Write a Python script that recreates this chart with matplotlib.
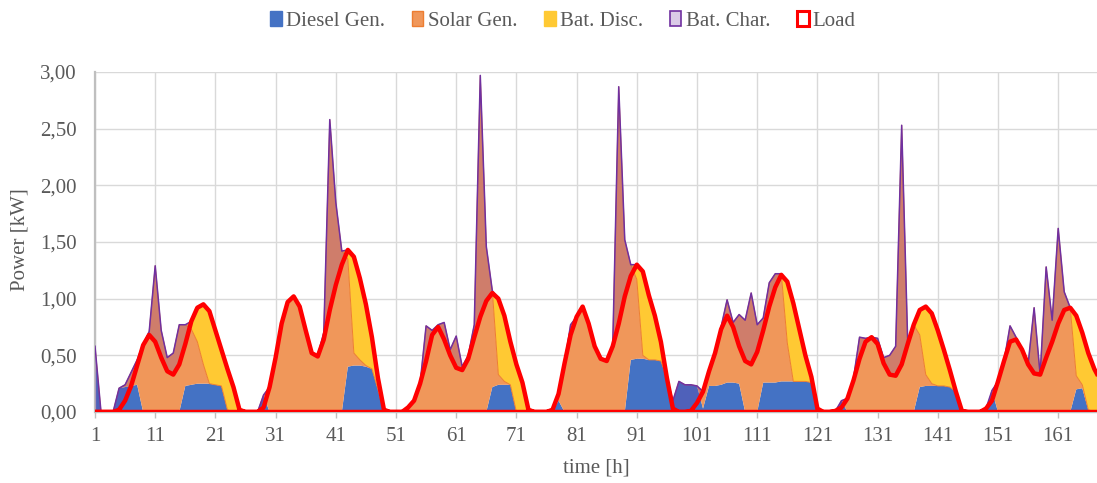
import numpy as np
import matplotlib
matplotlib.use("Agg")
import matplotlib.pyplot as plt
from matplotlib.patches import Patch

# Hourly power balance over one week [kW], hours 1..168
hours = list(range(1, 169))

load = [
    0, 0, 0, 0, 0.02, 0.10, 0.23, 0.41, 0.59, 0.68, 0.62, 0.48, 0.36, 0.33, 0.42, 0.60, 0.80, 0.92, 0.95, 0.89, 0.72, 0.55, 0.38, 0.22,
    0.02, 0, 0, 0, 0.04, 0.22, 0.48, 0.78, 0.97, 1.02, 0.93, 0.72, 0.52, 0.49, 0.64, 0.90, 1.12, 1.30, 1.43, 1.37, 1.18, 0.95, 0.66, 0.30,
    0.02, 0, 0, 0, 0.04, 0.10, 0.25, 0.45, 0.68, 0.75, 0.64, 0.50, 0.39, 0.37, 0.47, 0.66, 0.84, 0.98, 1.05, 1.00, 0.85, 0.62, 0.42, 0.26,
    0.02, 0, 0, 0, 0.02, 0.16, 0.43, 0.68, 0.84, 0.93, 0.78, 0.58, 0.47, 0.45, 0.58, 0.78, 1.02, 1.20, 1.30, 1.24, 1.03, 0.85, 0.62, 0.30,
    0.03, 0, 0, 0.01, 0.08, 0.18, 0.36, 0.52, 0.73, 0.85, 0.75, 0.58, 0.45, 0.42, 0.53, 0.72, 0.93, 1.10, 1.21, 1.15, 0.96, 0.73, 0.50, 0.31,
    0.03, 0, 0, 0.01, 0.04, 0.12, 0.28, 0.47, 0.62, 0.66, 0.60, 0.43, 0.33, 0.32, 0.42, 0.60, 0.77, 0.90, 0.93, 0.87, 0.72, 0.55, 0.37, 0.18,
    0.01, 0, 0, 0, 0.03, 0.10, 0.27, 0.45, 0.62, 0.64, 0.55, 0.42, 0.34, 0.33, 0.48, 0.62, 0.78, 0.90, 0.92, 0.85, 0.70, 0.52, 0.38, 0.28,
]

diesel_gen = [
    0.58, 0, 0, 0, 0.21, 0.22, 0.23, 0.24, 0, 0, 0, 0, 0, 0, 0, 0.23, 0.24, 0.25, 0.25, 0.25, 0.24, 0.23, 0.02, 0,
    0, 0, 0, 0, 0.15, 0, 0, 0, 0, 0, 0, 0, 0, 0, 0, 0, 0, 0, 0.40, 0.41, 0.41, 0.40, 0.38, 0.20,
    0, 0, 0, 0, 0, 0, 0, 0, 0, 0, 0, 0, 0, 0, 0, 0, 0, 0, 0.22, 0.24, 0.24, 0.24, 0, 0,
    0, 0, 0, 0, 0, 0.10, 0, 0, 0, 0, 0, 0, 0, 0, 0, 0, 0, 0.46, 0.47, 0.47, 0.46, 0.46, 0.45, 0.30,
    0.10, 0.27, 0.24, 0.24, 0.23, 0.03, 0.23, 0.23, 0.24, 0.26, 0.26, 0.25, 0, 0, 0, 0.26, 0.26, 0.26, 0.27, 0.27, 0.27, 0.27, 0.27, 0.26,
    0, 0, 0, 0, 0.10, 0, 0, 0, 0, 0, 0, 0, 0, 0, 0, 0, 0, 0.22, 0.23, 0.23, 0.23, 0.23, 0.22, 0.18,
    0, 0, 0, 0, 0, 0.19, 0, 0, 0, 0, 0, 0, 0, 0, 0, 0, 0, 0, 0, 0.20, 0.21, 0.02, 0, 0,
]

solar_gen = [
    0, 0, 0, 0, 0, 0.02, 0.12, 0.22, 0.60, 0.71, 1.29, 0.72, 0.48, 0.52, 0.77, 0.54, 0.49, 0.37, 0.17, 0, 0, 0, 0, 0,
    0, 0, 0, 0, 0, 0.22, 0.48, 0.78, 0.97, 1.02, 0.93, 0.72, 0.52, 0.50, 0.70, 2.58, 1.85, 1.42, 0.95, 0.11, 0.05, 0.01, 0, 0,
    0, 0, 0, 0, 0.04, 0.10, 0.25, 0.76, 0.72, 0.77, 0.79, 0.55, 0.67, 0.40, 0.50, 0.77, 2.97, 1.46, 0.85, 0.09, 0.03, 0, 0, 0,
    0, 0, 0, 0, 0.02, 0.06, 0.43, 0.77, 0.84, 0.93, 0.78, 0.58, 0.47, 0.45, 0.58, 2.87, 1.52, 0.84, 0.70, 0.03, 0, 0, 0, 0,
    0, 0, 0, 0, 0, 0.15, 0.13, 0.29, 0.51, 0.73, 0.53, 0.61, 0.81, 1.05, 0.77, 0.57, 0.88, 0.96, 0.95, 0.34, 0, 0, 0, 0,
    0, 0, 0, 0, 0, 0.12, 0.30, 0.66, 0.65, 0.66, 0.65, 0.48, 0.50, 0.58, 2.53, 0.62, 0.77, 0.46, 0.10, 0.02, 0, 0, 0, 0,
    0, 0, 0, 0, 0, 0, 0.27, 0.45, 0.76, 0.66, 0.55, 0.42, 0.92, 0.33, 1.28, 0.81, 1.62, 1.06, 0.92, 0.12, 0.03, 0, 0, 0,
]

bat_discharge = [
    0, 0, 0, 0, 0, 0, 0, 0, 0, 0, 0, 0, 0, 0, 0, 0, 0.07, 0.30, 0.53, 0.64, 0.48, 0.32, 0.36, 0.22,
    0.02, 0, 0, 0, 0, 0, 0, 0, 0, 0, 0, 0, 0, 0, 0, 0, 0, 0, 0.08, 0.85, 0.72, 0.54, 0.28, 0.10,
    0.02, 0, 0, 0, 0, 0, 0, 0, 0, 0, 0, 0, 0, 0, 0, 0, 0, 0, 0, 0.67, 0.58, 0.38, 0.42, 0.26,
    0.02, 0, 0, 0, 0, 0, 0, 0, 0, 0, 0, 0, 0, 0, 0, 0, 0, 0, 0.13, 0.74, 0.57, 0.39, 0.17, 0,
    0, 0, 0, 0, 0, 0, 0, 0, 0, 0, 0, 0, 0, 0, 0, 0, 0, 0, 0, 0.54, 0.69, 0.46, 0.23, 0.05,
    0.03, 0, 0, 0.01, 0, 0, 0, 0, 0, 0, 0, 0, 0, 0, 0, 0, 0, 0.22, 0.60, 0.62, 0.49, 0.32, 0.15, 0,
    0.01, 0, 0, 0, 0.03, 0, 0, 0, 0, 0, 0, 0, 0, 0, 0, 0, 0, 0, 0, 0.53, 0.46, 0.50, 0.38, 0.28,
]

bat_charge = [
    0.58, 0, 0, 0, 0.19, 0.14, 0.12, 0.05, 0.01, 0.03, 0.67, 0.24, 0.12, 0.19, 0.35, 0.17, 0, 0, 0, 0, 0, 0, 0, 0,
    0, 0, 0, 0, 0.11, 0, 0, 0, 0, 0, 0, 0, 0, 0.01, 0.06, 1.68, 0.73, 0.12, 0, 0, 0, 0, 0, 0,
    0, 0, 0, 0, 0, 0, 0, 0.31, 0.04, 0.02, 0.15, 0.05, 0.28, 0.03, 0.03, 0.11, 2.13, 0.48, 0.02, 0, 0, 0, 0, 0,
    0, 0, 0, 0, 0, 0, 0, 0.09, 0, 0, 0, 0, 0, 0, 0, 2.09, 0.50, 0.10, 0, 0, 0, 0, 0, 0,
    0.07, 0.27, 0.24, 0.23, 0.15, 0, 0, 0, 0.02, 0.14, 0.04, 0.28, 0.36, 0.63, 0.24, 0.11, 0.21, 0.12, 0.01, 0, 0, 0, 0, 0,
    0, 0, 0, 0, 0.06, 0, 0.02, 0.19, 0.03, 0, 0.05, 0.05, 0.17, 0.26, 2.11, 0.02, 0, 0, 0, 0, 0, 0, 0, 0,
    0, 0, 0, 0, 0, 0.09, 0, 0, 0.14, 0.02, 0, 0, 0.58, 0, 0.80, 0.19, 0.84, 0.16, 0, 0, 0, 0, 0, 0,
]

x_ticks = list(range(1, 162, 10))
y_ticks = [0, 0.5, 1.0, 1.5, 2.0, 2.5, 3.0]
labels = ["Diesel Gen.", "Solar Gen.", "Bat. Disc.", "Bat. Char.", "Load"]

# Colours
C_DIESEL = "#4472C4"
C_SOLAR = "#F0975A"
C_SOLAR_EDGE = "#ED7D31"
C_DISC = "#FFC933"
C_CHAR = "#7030A0"
C_LOAD = "#FF0000"
C_TEXT = "#595959"
C_GRID = "#D9D9D9"

plt.rcParams["font.family"] = ["Liberation Serif", "DejaVu Serif"]

x = np.array(hours, dtype=float)
d = np.array(diesel_gen)
s = np.array(solar_gen)
b = np.array(bat_discharge)
c = np.array(bat_charge)
ld = np.array(load)

fig = plt.figure(figsize=(10.97, 4.83), dpi=100)
ax = fig.add_axes([95 / 1097, 71 / 483, 1002 / 1097, 340 / 483])

# Stacked supply areas
ax.fill_between(x, 0, d, facecolor=C_DIESEL, lw=0, zorder=2)
ax.fill_between(x, d, d + s, facecolor=C_SOLAR, lw=0, zorder=2)
ax.fill_between(x, d + s, d + s + b, facecolor=C_DISC, lw=0, zorder=2)
ax.plot(x, d + s, color=C_SOLAR_EDGE, lw=0.7, zorder=2.1)

# Battery charging: translucent band below the supply top
top = d + s + b
ax.fill_between(x, top - c, top, facecolor=C_CHAR, alpha=0.25, lw=0, zorder=3)
ax.plot(x, top, color=C_CHAR, lw=1.1, zorder=3.1)

# Load outline (closed area without fill)
lx = np.concatenate([x, x[::-1]])
ly = np.concatenate([ld, np.zeros_like(ld)])
ax.fill(lx, ly, facecolor="none", edgecolor=C_LOAD, lw=3.2, joinstyle="round", zorder=4)

ax.set_xlim(1, 1 + 1002 / 6.02)
ax.set_ylim(0, 3.0)
ax.set_xticks(x_ticks)
ax.set_xticklabels([str(t) for t in x_ticks])
ax.set_yticks(y_ticks)
ax.set_yticklabels([f"{v:.2f}".replace(".", ",") for v in y_ticks])

ax.grid(True, color=C_GRID, lw=1.0, zorder=0)
ax.set_axisbelow(True)
for side in ("top", "right"):
    ax.spines[side].set_visible(False)
ax.spines["left"].set_color("#BFBFBF")
ax.spines["left"].set_linewidth(1.6)
ax.spines["bottom"].set_color("#BFBFBF")
ax.spines["bottom"].set_linewidth(1.0)
ax.tick_params(axis="x", direction="out", length=4, width=1.0, color="#BFBFBF",
               labelsize=15, labelcolor=C_TEXT, pad=7)
ax.tick_params(axis="y", length=0, labelsize=15, labelcolor=C_TEXT, pad=13)

fig.text(20 / 1097, 1 - 240 / 483, "Power [kW]", rotation=90, ha="center", va="center",
         fontsize=15, color=C_TEXT)
fig.text(596 / 1097, 1 - 468 / 483, "time [h]", ha="center", va="center",
         fontsize=15, color=C_TEXT)

handles = [
    Patch(facecolor=C_DIESEL, edgecolor=C_DIESEL),
    Patch(facecolor=C_SOLAR, edgecolor=C_SOLAR_EDGE),
    Patch(facecolor=C_DISC, edgecolor=C_DISC),
    Patch(facecolor="#DBCBE7", edgecolor=C_CHAR, lw=1.2),
    Patch(facecolor="white", edgecolor=C_LOAD, lw=2.2),
]
leg = fig.legend(handles, labels, loc="center", bbox_to_anchor=(563 / 1097, 1 - 21 / 483),
                 ncol=5, frameon=False, fontsize=15, handlelength=0.55, handleheight=0.75,
                 handletextpad=0.2, columnspacing=1.3, labelcolor=C_TEXT)

fig.savefig("out.png", dpi=100)
